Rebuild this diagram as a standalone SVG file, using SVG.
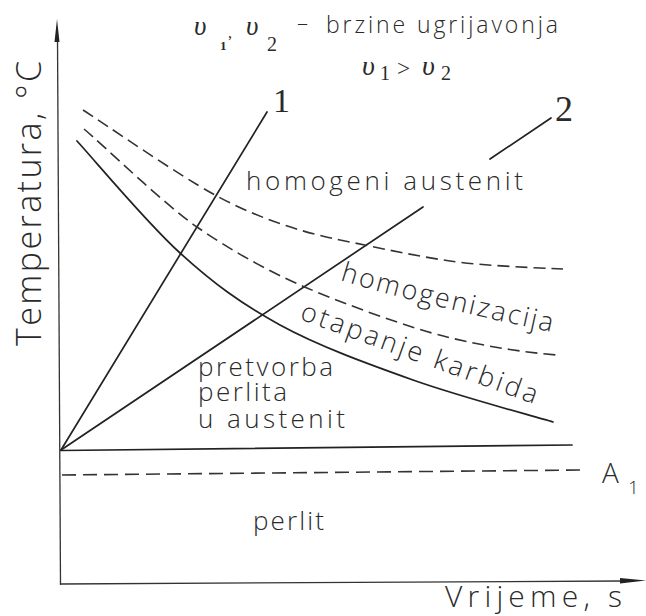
<svg xmlns="http://www.w3.org/2000/svg" width="646" height="616" viewBox="0 0 646 616">
<style>
.ln{fill:none;stroke:#222;stroke-width:1.7;stroke-linecap:round}
.ax{fill:none;stroke:#333;stroke-width:1.3}
.ds{fill:none;stroke:#333;stroke-width:1.6;stroke-dasharray:12 6}
.t{font-family:"Open Sans","DejaVu Sans",sans-serif;font-weight:300;fill:#2a2a2a}
.g{font-family:"Liberation Serif",serif;font-style:italic;fill:#2a2a2a}
.n{font-family:"Liberation Serif",serif;fill:#2a2a2a}
</style>
<defs>
<path id="p-hom" d="M340,280 Q410,302 560,334"/>
<path id="p-ota" d="M299,319 L545,408"/>
</defs>
<rect width="646" height="616" fill="#fff"/>
<g id="axes">
<line class="ax" x1="57.5" y1="38" x2="60.5" y2="585"/>
<polygon points="57,19 54.5,42 59.5,42" fill="#222"/>
<line class="ax" x1="60.5" y1="584" x2="622" y2="581"/>
<polygon points="646,580.5 620,578 620,583.5" fill="#222"/>
</g>
<g id="connectors">
<line id="line1" class="ln" x1="61" y1="450" x2="267" y2="112"/>
<line id="line2" class="ln" x1="61" y1="450" x2="423" y2="207"/>
<line id="leader2" class="ln" x1="490" y1="159" x2="551" y2="118"/>
<line id="solidA" class="ln" x1="61" y1="450.5" x2="572" y2="445"/>
<line id="A1line" class="ds" x1="62" y1="475" x2="583" y2="470" style="stroke-dasharray:14 7"/>
<path id="curve-otapanje" class="ln" d="M77,141 C94.2,159.7 146.2,222.3 180,253 C213.8,283.7 241.2,303.8 280,325 C318.8,346.2 367.5,363.8 413,380 C458.5,396.2 529.7,415 553,422"/>
<path id="curve-homogenizacija" class="ds" d="M84,129 C103,145 165,205 197,227 C229,249 267,271 307,288 C347,305 410,328 447,337 C484,346 520,352 557,355"/>
<path id="curve-homogeni" class="ds" d="M83,110 C105,124 175,173 215,195 C255,217 300,232 340,240 C380,248 415,256 450,261 C485,266 540,268 563,269"/>
</g>
<g id="title">
<text class="g" x="194" y="35" font-size="27">υ</text>
<text class="n" x="220" y="50" font-size="13" font-weight="bold">1</text>
<text class="n" x="228" y="38" font-size="16">,</text>
<text class="g" x="246" y="35" font-size="27">υ</text>
<text class="n" x="267" y="51" font-size="20">2</text>
<text class="t" x="297" y="31" font-size="22">–</text>
<text class="t" x="326" y="33" font-size="23" textLength="232" lengthAdjust="spacing">brzine ugrijavonja</text>
<text class="g" x="362" y="75" font-size="28">υ</text>
<text class="n" x="380" y="80" font-size="20">1</text>
<text class="t" x="397" y="77" font-size="23">&gt;</text>
<text class="g" x="422" y="75" font-size="28">υ</text>
<text class="n" x="441" y="80" font-size="20">2</text>
</g>
<g id="label-1"><text class="n" x="273" y="112" font-size="34">1</text></g>
<g id="label-2"><text class="n" x="555" y="121" font-size="36">2</text></g>
<g id="region-homogeni"><text class="t" x="246" y="190" font-size="26" textLength="277" lengthAdjust="spacing">homogeni austenit</text></g>
<g id="region-homogenizacija"><text class="t" font-size="27"><textPath href="#p-hom" textLength="218" lengthAdjust="spacing">homogenizacija</textPath></text></g>
<g id="region-otapanje"><text class="t" font-size="27"><textPath href="#p-ota" textLength="250" lengthAdjust="spacing">otapanje karbida</textPath></text></g>
<g id="region-pretvorba">
<text class="t" x="198" y="376" font-size="26" textLength="135" lengthAdjust="spacing">pretvorba</text>
<text class="t" x="198" y="401" font-size="26" textLength="89" lengthAdjust="spacing">perlita</text>
<text class="t" x="198" y="428" font-size="26" textLength="147" lengthAdjust="spacing">u austenit</text>
</g>
<g id="region-perlit"><text class="t" x="253" y="530" font-size="26" textLength="71" lengthAdjust="spacing">perlit</text></g>
<g id="label-A1">
<text class="t" x="602" y="483" font-size="28">A</text>
<text class="t" x="628" y="494" font-size="19">1</text>
</g>
<g id="axis-x-label"><text class="t" x="445" y="607" font-size="30" textLength="177" lengthAdjust="spacing">Vrijeme, s</text></g>
<g id="axis-y-label"><text class="t" transform="translate(41,346) rotate(-90)" font-size="34" textLength="285" lengthAdjust="spacing">Temperatura, °C</text></g>
</svg>
